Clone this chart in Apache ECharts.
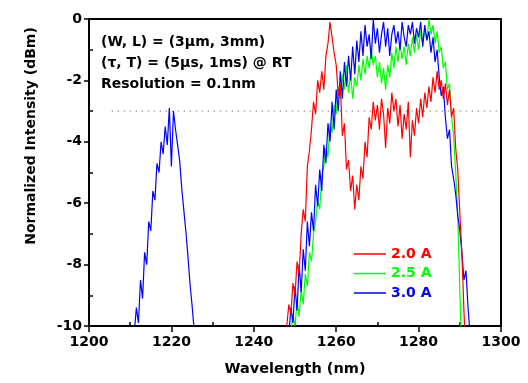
<!DOCTYPE html>
<html>
<head>
<meta charset="utf-8">
<script src="https://cdn.jsdelivr.net/npm/echarts@6/dist/echarts.min.js"></script>
<style>
  html, body { margin: 0; padding: 0; background: #fff; }
  #chart { width: 528px; height: 383px; }
</style>
</head>
<body>
<div id="chart"></div>
<script>
// spectra sampled every 0.5 nm, values in dBm (normalized)
const STEP = 0.5

const redStart = 1247.0
const red20 = [
  -11, -10.8, -10.0, -9.3, -9.6, -8.6, -9.0, -7.9, -8.3, -7.0,
  -6.2, -6.6, -4.8, -4.3, -3.6, -2.7, -3.1, -2.0, -2.4, -1.7,
  -2.3, -1.2, -0.8, -0.1, -0.6, -1.1, -1.5, -2.5, -2.1, -3.8,
  -3.4, -4.9, -4.6, -5.6, -5.1, -6.2, -5.4, -5.9, -4.8, -5.2,
  -4.0, -4.5, -3.2, -3.6, -2.7, -3.3, -2.8, -3.6, -2.6, -3.1,
  -4.2, -2.9, -3.4, -2.4, -3.0, -2.6, -3.5, -2.8, -3.9, -3.1,
  -3.6, -2.7, -4.5, -3.3, -3.8, -2.9, -3.4, -2.6, -3.2, -2.4,
  -2.9, -2.2, -2.7, -1.9, -2.4, -1.7, -2.3, -2.0, -2.6, -2.1,
  -2.8, -2.3, -3.2, -2.9, -4.2, -4.9, -6.3, -7.6, -9.5, -11
]

const greenStart = 1248.5
const green25 = [
  -11, -10.2, -9.6, -10.0, -9.2, -9.7, -8.8, -9.3, -8.3, -8.7,
  -7.6, -7.9, -7.0, -6.6, -5.9, -6.2, -5.1, -4.8, -4.2, -4.5,
  -3.4, -3.7, -2.8, -3.1, -2.2, -2.6, -1.8, -2.3, -1.5, -2.4,
  -1.8, -2.6, -1.9, -2.2, -1.5, -2.0, -1.3, -1.8, -1.2, -1.6,
  -1.0, -1.5, -1.2, -1.9, -1.4, -2.1, -1.6, -2.3, -1.5, -1.9,
  -1.1, -1.6, -0.9, -1.4, -0.8, -1.3, -0.9, -1.5, -0.8, -1.2,
  -0.6, -1.1, -0.5, -1.0, -0.4, -0.8, -0.3, -0.7, 0.0, -0.5,
  -0.2, -0.8, -0.4, -1.1, -0.9, -1.6, -1.4, -2.3, -2.1, -3.2,
  -3.8, -5.0, -6.4, -8.8, -11
]

const blueStart = 1248.0
const blue30 = [
  -11, -10.3, -9.4, -9.9, -8.7, -9.5, -8.0, -8.9, -7.5, -8.2,
  -6.6, -7.4, -6.3, -6.9, -5.4, -6.1, -4.9, -5.6, -4.1, -4.7,
  -3.4, -4.0, -2.7, -3.6, -2.3, -3.0, -1.7, -2.6, -1.4, -2.2,
  -1.2, -2.0, -0.9, -1.8, -0.7, -1.4, -0.4, -1.2, -0.2, -0.9,
  -0.5, -1.3, 0.0, -0.8, -0.3, -1.1, -0.5, -0.1, -0.9, -0.3,
  -1.2, -0.5, -0.2, -0.8, -0.4, -1.0, -0.1, -0.6, -0.9, -0.2,
  -0.5, -0.1, -0.8, -0.3, -0.6, -0.1, -0.9, -0.2, -0.7, -0.4,
  -1.1, -0.6, -1.4, -1.0, -1.9, -2.5, -2.2, -3.2, -3.9, -3.6,
  -4.8, -5.2, -5.7, -6.4, -6.9, -7.6, -8.5, -8.2, -9.4, -10.3,
  -11
]

// short-wavelength side peak, only seen at 3.0 A
const bluePeakStart = 1210.5
const blue30Peak = [
  -11, -10.2, -9.4, -9.9, -8.5, -9.1, -7.6, -8.0, -6.6, -6.9,
  -5.6, -5.9, -4.7, -5.0, -4.0, -4.4, -3.5, -4.1, -2.9, -4.8,
  -3.0, -3.6, -4.1, -4.6, -5.5, -6.2, -6.9, -7.7, -8.6, -9.3,
  -10.1, -11
]

const refLineX = [1205.5, 1299]
const refLineY = -3

const notes = [
  '(W, L) = (3μm, 3mm)',
  '(τ, T) = (5μs, 1ms) @ RT',
  'Resolution = 0.1nm',
]

const FONT = '"DejaVu Sans", sans-serif'

function pairs(start, vals) {
  return vals.map((v, i) => [start + i * STEP, v])
}

function lineSeries(name, color, data) {
  return {
    name, type: 'line', data,
    showSymbol: false, symbol: 'none',
    lineStyle: { color, width: 1.2 },
    itemStyle: { color },
  }
}

// major ticks point out, minor ticks (negative length) point into the plot
const tickStyle = { color: '#000', width: 1.5 }
const labelStyle = { color: '#000', fontFamily: FONT, fontWeight: 'bold', fontSize: 14 }

const chart = echarts.init(document.getElementById('chart'))

chart.setOption({
  animation: false,
  grid: { left: 89, top: 19, width: 412, height: 307, show: true, borderColor: '#000', borderWidth: 2 },
  legend: {
    data: [
      { name: '2.0 A', textStyle: { color: '#ff0000' } },
      { name: '2.5 A', textStyle: { color: '#00ff00' } },
      { name: '3.0 A', textStyle: { color: '#0000ff' } },
    ],
    orient: 'vertical', left: 349, top: 242,
    icon: 'rect', itemWidth: 32, itemHeight: 1.5, itemGap: 5.5,
    textStyle: { fontFamily: FONT, fontWeight: 'bold', fontSize: 14, lineHeight: 14 },
  },
  xAxis: {
    type: 'value', min: 1200, max: 1300, interval: 20, position: 'bottom',
    axisLine: { onZero: false, lineStyle: { color: '#000', width: 2 } },
    axisTick: { inside: false, length: 6, lineStyle: tickStyle },
    minorTick: { show: true, splitNumber: 2, length: -4, lineStyle: tickStyle },
    axisLabel: { ...labelStyle, margin: 9, formatter: v => String(v) },
    splitLine: { show: false },
    minorSplitLine: { show: false },
    name: 'Wavelength (nm)', nameLocation: 'middle', nameGap: 36,
    nameTextStyle: { ...labelStyle, fontSize: 14.5 },
  },
  yAxis: {
    type: 'value', min: -10, max: 0, interval: 2, position: 'left',
    axisLine: { show: true, onZero: false, lineStyle: { color: '#000', width: 2 } },
    axisTick: { show: true, inside: false, length: 5, lineStyle: tickStyle },
    minorTick: { show: true, splitNumber: 2, length: -4, lineStyle: tickStyle },
    axisLabel: { ...labelStyle, margin: 7 },
    splitLine: { show: false },
    minorSplitLine: { show: false },
  },
  graphic: [
    ...notes.map((t, i) => ({
      type: 'text', x: 101, y: 42 + i * 21,
      style: { text: t, font: 'bold 14px ' + FONT, fill: '#000', verticalAlign: 'middle' },
    })),
    {
      type: 'text', x: 31, y: 136, rotation: Math.PI / 2,
      style: { text: 'Normalized Intensity (dBm)', font: 'bold 14px ' + FONT, fill: '#000', align: 'center', verticalAlign: 'middle' },
    },
  ],
  series: [
    {
      type: 'line', data: refLineX.map(x => [x, refLineY]), symbol: 'none', silent: true,
      lineStyle: { color: '#808080', width: 1, type: [1.5, 4.5] },
    },
    lineSeries('2.5 A', '#00ff00', pairs(greenStart, green25)),
    lineSeries('3.0 A', '#0000ff', pairs(bluePeakStart, blue30Peak)),
    lineSeries('3.0 A', '#0000ff', pairs(blueStart, blue30)),
    lineSeries('2.0 A', '#ff0000', pairs(redStart, red20)),
  ],
})
</script>
</body>
</html>
